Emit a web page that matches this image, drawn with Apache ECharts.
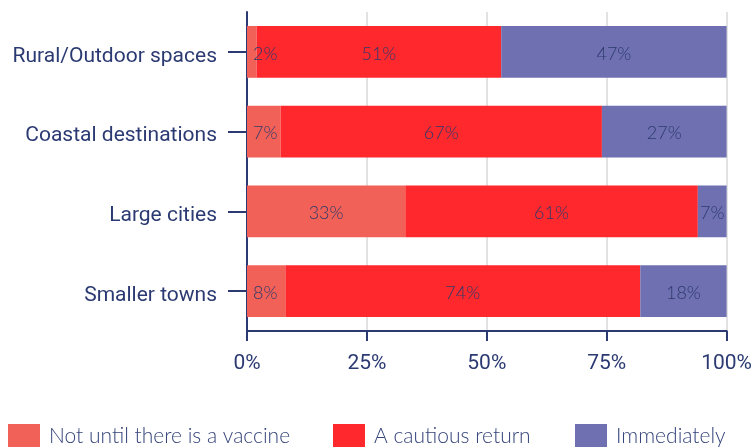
<!DOCTYPE html>
<html>
<head>
<meta charset="utf-8">
<script src="https://cdn.jsdelivr.net/npm/echarts@6/dist/echarts.min.js"></script>
<style>
  html, body { margin: 0; padding: 0; background: #fff; }
  #chart { width: 755px; height: 447px; }
</style>
</head>
<body>
<div id="chart"></div>
<script>
// categories, top to bottom
const categories = ['Rural/Outdoor spaces', 'Coastal destinations', 'Large cities', 'Smaller towns']
const seriesNames = ['Not until there is a vaccine', 'A cautious return', 'Immediately']
const notUntilVaccine = [2, 7, 33, 8]
const cautiousReturn = [51, 67, 61, 74]
const immediately = [47, 27, 7, 18]
const xTicks = [0, 25, 50, 75, 100]

const navy = '#2b3a72'
const colors = ['#f26157', '#fe282d', '#6e70b2']
const values = [notUntilVaccine, cautiousReturn, immediately]

const chart = echarts.init(document.getElementById('chart'))

const labelStyle = {
  show: true,
  position: 'inside',
  offset: [0, 2],
  formatter: p => p.value + '%',
  color: '#2d3a6b',
  fontFamily: 'Lato',
  fontWeight: 300,
  fontSize: 18
}

// small segments get their label pushed to the left edge, like the original
function toItems(arr) {
  return arr.map(v => v < 10
    ? { value: v, label: { position: 'insideLeft', distance: 6 } }
    : v)
}

chart.setOption({
  animation: false,
  grid: { left: 247, right: 27, top: 12, bottom: 116, containLabel: false },
  // legends placed one by one to match the spacing
  legend: seriesNames.map((name, i) => ({
    data: [name],
    left: [8, 333, 575][i],
    top: 424,
    padding: 0,
    itemWidth: 32,
    itemHeight: 24,
    itemGap: 10,
    icon: 'rect',
    textStyle: { color: '#34437a', fontFamily: 'Lato', fontWeight: 300, fontSize: 21, padding: [6, 0, 0, 4] }
  })),
  xAxis: {
    type: 'value',
    min: 0,
    max: 100,
    interval: 25,
    axisLine: { show: true, lineStyle: { color: navy, width: 2 } },
    axisTick: { show: true, length: 10, lineStyle: { color: navy, width: 2 } },
    axisLabel: {
      formatter: v => xTicks.includes(v) ? v + '%' : '',
      color: navy,
      fontFamily: 'Roboto',
      fontSize: 21,
      margin: 22
    },
    splitLine: { show: true, lineStyle: { color: '#e2e2e2', width: 2 } }
  },
  yAxis: {
    type: 'category',
    data: categories,
    inverse: true,
    axisLine: { show: true, lineStyle: { color: navy, width: 2 } },
    axisTick: { show: true, length: 19, alignWithLabel: true, lineStyle: { color: navy, width: 2 } },
    axisLabel: {
      margin: 30,
      formatter: v => '{c|' + v + '}',
      rich: {
        c: { color: navy, fontFamily: 'Roboto', fontSize: 21, padding: [9, 0, 0, 0] }
      }
    }
  },
  series: seriesNames.map((name, i) => ({
    name: name,
    type: 'bar',
    stack: 'total',
    barCategoryGap: '35%',
    itemStyle: { color: colors[i] },
    label: labelStyle,
    data: i === 0 ? toItems(values[i]) : values[i]
  }))
})
</script>
</body>
</html>
